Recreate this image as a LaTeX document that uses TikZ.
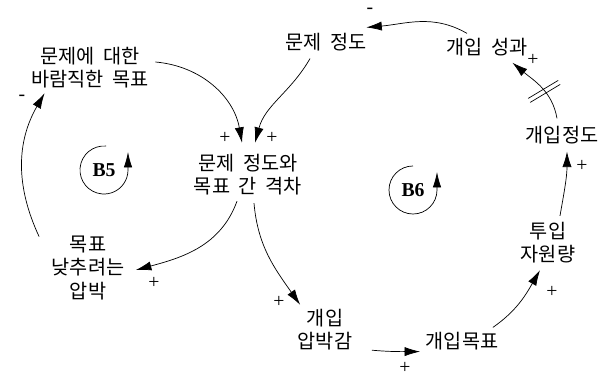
\documentclass[tikz,border=0pt]{standalone}
\usepackage{fontspec}
\setmainfont{Liberation Serif}
\newfontfamily\krfont[WordSpace=2]{Noto Sans CJK KR}
\usetikzlibrary{arrows.meta,positioning,calc}
\tikzset{
  var/.style={
    align=center, inner sep=1pt,
    font=\krfont\fontsize{14}{16.5}\selectfont
  },
  link/.style={-{Latex[length=11pt,width=6.5pt]}, line width=0.5pt},
  sign/.style={inner sep=0pt, font=\fontsize{14}{14}\selectfont},
  looplbl/.style={inner sep=0pt, font=\bfseries\fontsize{14}{14}\selectfont},
  loopline/.style={-{Latex[length=11pt,width=6pt]}, line width=0.5pt},
  delay/.style={line width=0.5pt}
}

\begin{document}
\begin{tikzpicture}[x=0.025cm, y=0.025cm]
  \useasboundingbox (0,0) rectangle (600,376);

  % variables
  \node[var] (goal)   at (90,308)  {문제에 대한\\바람직한 목표};
  \node[var] (prob)   at (326,334) {문제 정도};
  \node[var] (outc)   at (487,329) {개입 성과};
  \node[var] (level)  at (562,241) {개입정도};
  \node[var] (gap)    at (248,201) {문제 정도와\\목표 간 격차};
  \node[var] (lower)  at (88,108)  {목표\\낮추려는\\압박};
  \node[var] (press)  at (325,46)  {개입\\압박감};
  \node[var] (target) at (462,35)  {개입목표};
  \node[var] (res)    at (548,133) {투입\\자원량};

  % loop labels
  \node[looplbl] (b5) at (104,206) {B5};
  \node[looplbl] (b6) at (413,186) {B6};
  \draw[loopline] ([shift={(85:0.6cm)}]b5.center)
    arc[start angle=85, end angle=360, radius=0.6cm] -- ++(0,18);
  \draw[loopline] ([shift={(90:0.6cm)}]b6.center)
    arc[start angle=90, end angle=360, radius=0.6cm] -- ++(0,18);

  % causal links
  \draw[link] ($(goal.east)+(5,6)$) to[out=-5,in=100] ($(gap.north)+(-6,10)$);
  \draw[link] ($(prob.south)+(-16,-6)$) to[out=-120,in=75] ($(gap.north)+(7,10)$);
  \draw[link] ($(gap.south)+(-11,-4)$) to[out=-110,in=15] ($(lower.east)+(10,-2)$);
  \draw[link] ($(lower.north west)+(-11,-2)$) to[out=115,in=-120] ($(goal.south west)+(15,-3)$);
  \draw[link] ($(gap.south)+(6,-6)$) to[out=-85,in=125] ($(press.north west)+(4,3)$);
  \draw[link] ($(press.south east)+(18,2)$) to[out=-5,in=180] ($(target.south west)+(-4,0)$);
  \draw[link] ($(target.north east)+(-7,3)$) to[out=35,in=-120] ($(res.south)+(-8,-5)$);
  \draw[link] ($(res.north)+(12,5)$) to[out=80,in=-90] ($(level.south)+(5,-6)$);
  \draw[link] ($(level.north)+(-5,6)$) to[out=100,in=-40]
    coordinate[pos=0.45] (dly) ($(outc.south east)+(-17,-5)$);
  \draw[link] ($(outc.north)+(-20,3)$) to[out=150,in=5] ($(prob.north east)+(-2,4)$);

  % delay mark
  \draw[delay] ($(dly)+(-15,-9)$) -- ($(dly)+(15,9)$);
  \draw[delay] ($(dly)+(-13,-13)$) -- ($(dly)+(17,5)$);

  % polarity signs
  \foreach \p/\s [count=\i] in {{225,238}/+, {272,238}/+, {154,93}/+,
      {22,278}/-, {279,74}/+, {405,8}/+, {552,84}/+, {582,210}/+,
      {533,316}/+, {370,365}/-}
    \node[sign] (sg\i) at (\p) {\s};
\end{tikzpicture}
\end{document}
